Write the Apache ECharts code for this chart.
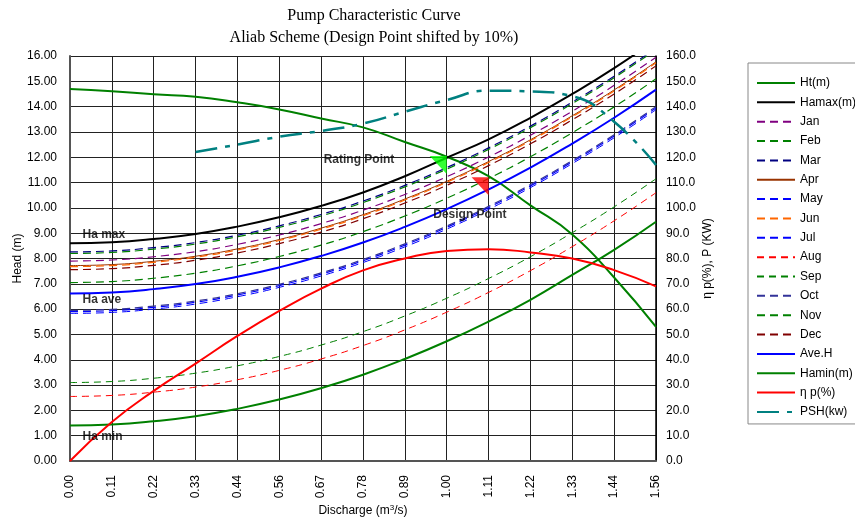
<!DOCTYPE html>
<html>
<head>
<meta charset="utf-8">
<script src="https://cdn.jsdelivr.net/npm/echarts@6/dist/echarts.min.js"></script>
<style>html,body{margin:0;padding:0;background:#fff;}#c{width:855px;height:520px;}</style>
</head>
<body>
<div id="c"></div>
<script>
const categories = ['0.00','0.11','0.22','0.33','0.44','0.56','0.67','0.78','0.89','1.00','1.11','1.22','1.33','1.44','1.56'];
const ht    = [14.70,14.61,14.49,14.39,14.17,13.89,13.53,13.18,12.60,12.02,11.25,10.10,8.95,7.25,5.30];
const hamax = [8.60,8.64,8.77,8.97,9.26,9.63,10.08,10.61,11.25,11.98,12.71,13.56,14.50,15.52,16.65];
const jan = [7.90,7.94,8.07,8.27,8.56,8.93,9.38,9.91,10.53,11.23,12.01,12.87,13.82,14.84,15.95];
const feb = [8.20,8.24,8.37,8.57,8.86,9.23,9.68,10.21,10.83,11.53,12.31,13.17,14.12,15.14,16.25];
const mar = [8.26,8.30,8.43,8.63,8.92,9.29,9.74,10.27,10.89,11.59,12.37,13.23,14.18,15.20,16.31];
const apr = [7.72,7.76,7.89,8.09,8.38,8.75,9.20,9.73,10.35,11.05,11.83,12.69,13.64,14.66,15.77];
const may = [5.90,5.94,6.07,6.27,6.56,6.93,7.38,7.91,8.53,9.23,10.01,10.87,11.82,12.84,13.95];
const jun = [7.68,7.72,7.85,8.05,8.34,8.71,9.16,9.69,10.31,11.01,11.79,12.65,13.60,14.62,15.73];
const jul = [5.83,5.87,6.00,6.20,6.49,6.86,7.31,7.84,8.46,9.16,9.94,10.80,11.75,12.77,13.88];
const aug = [2.55,2.59,2.72,2.92,3.21,3.58,4.03,4.56,5.18,5.88,6.66,7.52,8.47,9.49,10.60];
const sep = [3.10,3.14,3.27,3.47,3.76,4.13,4.58,5.11,5.73,6.43,7.21,8.07,9.02,10.04,11.15];
const oct = [5.95,5.99,6.12,6.32,6.61,6.98,7.43,7.96,8.58,9.28,10.06,10.92,11.87,12.89,14.00];
const nov = [7.05,7.09,7.22,7.42,7.71,8.08,8.53,9.06,9.68,10.38,11.16,12.02,12.97,13.99,15.10];
const dec = [7.56,7.60,7.73,7.93,8.22,8.59,9.04,9.57,10.19,10.89,11.67,12.53,13.48,14.50,15.61];
const aveH  = [6.62,6.66,6.79,6.99,7.28,7.65,8.10,8.63,9.25,9.95,10.73,11.59,12.54,13.56,14.67];
const hamin = [1.40,1.44,1.57,1.77,2.06,2.43,2.88,3.41,4.03,4.73,5.51,6.37,7.35,8.34,9.45];
const etaP  = [0,15.4,27.7,38.5,49.4,59.3,68.1,75.3,80.0,83.0,83.7,82.4,80.0,75.4,69.0];
const psh   = [null,null,null,122.1,125.0,128.1,130.4,133.3,138.0,142.6,146.3,146.0,144.1,134.0,116.9];
const ratingPoint = [9, 12.05];
const designPoint = [10, 11.21];
const annotations = [
  {name:'Ha max', value:[0, 8.96]},
  {name:'Ha ave', value:[0, 6.39]},
  {name:'Ha min', value:[0, 0.98]},
  {name:'Rating Point', value:[8, 11.92]},
  {name:'Design Point', value:[9, 9.75]}
];

const FONT = 'Liberation Sans';
function line(name, data, color, width, type, axis) {
  return {
    name, type:'line', data, yAxisIndex: axis || 0, symbol:'none', smooth:true,
    clip:true, connectNulls:false,
    lineStyle:{color, width, type: type || 'solid'},
    itemStyle:{color},
    emphasis:{disabled:true}
  };
}
const dash = [8,5];
const thinDash = [7,5];
const series = [
  line('Ht(m)', ht, '#008000', 2),
  line('Hamax(m)', hamax, '#000000', 2),
  line('Jan', jan, '#800080', 1.2, dash),
  line('Feb', feb, '#008000', 1.2, dash),
  line('Mar', mar, '#000080', 1.2, dash),
  line('Apr', apr, '#993300', 1, 'solid'),
  line('May', may, '#0000FF', 1.2, dash),
  line('Jun', jun, '#FF6600', 1.2, dash),
  line('Jul', jul, '#0000FF', 1, dash),
  line('Aug', aug, '#FF0000', 1, thinDash),
  line('Sep', sep, '#008000', 1, thinDash),
  line('Oct', oct, '#333399', 1.2, dash),
  line('Nov', nov, '#008000', 1.2, dash),
  line('Dec', dec, '#800000', 1.2, dash),
  line('Ave.H', aveH, '#0000FF', 2),
  line('Hamin(m)', hamin, '#008000', 2),
  line('η p(%)', etaP, '#FF0000', 2, 'solid', 1),
  line('PSH(kw)', psh, '#008080', 2.5, [22,8,5,8], 1),
  {
    name:'points', type:'scatter', yAxisIndex:0, z:5,
    symbol:'path://M0,0 L10,0 L10,10 Z', symbolSize:[17,18], symbolOffset:[-8.5,9],
    data:[
      {value: ratingPoint, itemStyle:{color:'#00FF00'}},
      {value: designPoint, itemStyle:{color:'#FF0000'}}
    ],
    emphasis:{disabled:true}
  },
  {
    name:'annot', type:'scatter', yAxisIndex:0, z:6, symbolSize:1,
    itemStyle:{color:'rgba(0,0,0,0)'},
    data: annotations.map(function(a){
      var lab = {show:true, formatter: a.name, color:'#000', fontFamily:FONT, fontWeight:'bold', fontSize:12};
      if (a.name === 'Rating Point') { lab.position = 'left'; lab.distance = 10; }
      else if (a.name === 'Design Point') { lab.position = 'right'; lab.distance = 0; lab.offset = [-14,0]; }
      else { lab.position = 'right'; lab.distance = 12; }
      return {name:a.name, value:a.value, label:lab};
    }),
    emphasis:{disabled:true}
  }
];

const chart = echarts.init(document.getElementById('c'), null, {renderer:'canvas'});
chart.setOption({
  animation:false,
  backgroundColor:'#fff',
  title:{
    text:'Pump Characteristic Curve\nAliab Scheme (Design Point shifted by 10%)',
    left:369, top:0, textAlign:'center',
    textStyle:{fontFamily:'Liberation Serif', fontSize:16, fontWeight:'normal', color:'#000', lineHeight:22}
  },
  legend:{
    orient:'vertical', left:748, top:63,
    padding:[14,2,6,8], itemWidth:38, itemHeight:12, itemGap:7.35, itemTextGap:3,
    borderColor:'#888', borderWidth:1,
    itemStyle:{color:'rgba(0,0,0,0)', borderWidth:0, opacity:0},
    textStyle:{fontFamily:FONT, fontSize:12, color:'#000'},
    data:['Ht(m)','Hamax(m)','Jan','Feb','Mar','Apr','May','Jun','Jul','Aug','Sep','Oct','Nov','Dec','Ave.H','Hamin(m)','η p(%)','PSH(kw)'],
    selectedMode:false
  },
  grid:{left:70, right:199, top:56, bottom:59, containLabel:false, outerBoundsMode:'none'},
  xAxis:{
    type:'category', data:categories, boundaryGap:false,
    name:'Discharge (m{sup|3}/s)', nameLocation:'middle', nameGap:43, nameMoveOverlap:false,
    nameTextStyle:{fontFamily:FONT, fontSize:12, color:'#000', rich:{sup:{fontSize:8, verticalAlign:'top', padding:[0,0,6,0], fontFamily:FONT, color:'#000'}}},
    axisLine:{lineStyle:{color:'#555', width:2}},
    axisTick:{show:false},
    axisLabel:{rotate:90, margin:14, fontFamily:FONT, fontSize:12, color:'#000', interval:0},
    splitLine:{show:true, interval:0, lineStyle:{color:'#222', width:1}}
  },
  yAxis:[
    {
      type:'value', min:0, max:16, interval:1, position:'left',
      name:'Head (m)', nameLocation:'middle', nameGap:46, nameRotate:90, nameMoveOverlap:false,
      nameTextStyle:{fontFamily:FONT, fontSize:12, color:'#000'},
      axisLine:{show:true, lineStyle:{color:'#555', width:2}},
      axisTick:{show:false},
      axisLabel:{margin:13, fontFamily:FONT, fontSize:12, color:'#000', formatter:function(v){return v.toFixed(2);}},
      splitLine:{show:true, lineStyle:{color:'#222', width:1}}
    },
    {
      type:'value', min:0, max:160, interval:10, position:'right',
      name:'η p(%), P (KW)', nameLocation:'middle', nameGap:46, nameRotate:90, nameMoveOverlap:false,
      nameTextStyle:{fontFamily:FONT, fontSize:12, color:'#000'},
      axisLine:{show:true, lineStyle:{color:'#000', width:1.5}},
      axisTick:{show:false},
      axisLabel:{margin:10, fontFamily:FONT, fontSize:12, color:'#000', formatter:function(v){return v.toFixed(1);}},
      splitLine:{show:false}
    }
  ],
  series: series
});
</script>
</body>
</html>
